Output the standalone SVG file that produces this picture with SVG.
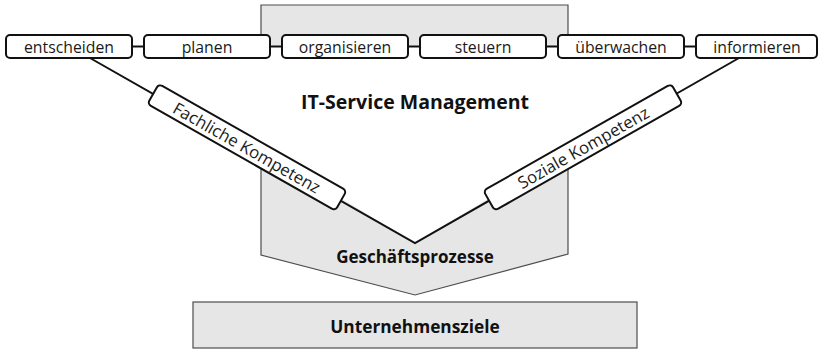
<svg xmlns="http://www.w3.org/2000/svg" width="819" height="349" viewBox="0 0 819 349">
<style>
.bg{fill:#e6e6e6;stroke:#4d4d4d;stroke-width:1.2}
.box{fill:#fff;stroke:#111;stroke-width:2}
.ln{stroke:#111;stroke-width:2;fill:none}
.t{font-family:"Open Sans","Noto Sans",sans-serif;font-size:15.8px;fill:#1a1a1a;text-anchor:middle;dominant-baseline:central}
.r{font-size:16.8px}
.b{font-family:"Open Sans","Noto Sans",sans-serif;font-size:17px;font-weight:bold;fill:#111;text-anchor:middle;dominant-baseline:central}
</style>
<g id="geschaeftsprozesse">
<polygon class="bg" points="261,5 568,5 568,254 415,295 261,255"/>
<polygon fill="#fff" points="90,46.5 739,46.5 415,243"/>
<text class="b" x="415" y="256">Geschäftsprozesse</text>
</g>
<g id="itsm"><text class="b" x="415" y="101" style="font-size:19.5px">IT-Service Management</text></g>
<g id="unternehmensziele">
<rect class="bg" x="193" y="302" width="444" height="46"/>
<text class="b" x="415" y="326" style="font-size:17.3px">Unternehmensziele</text>
</g>
<g id="connectors">
<line class="ln" x1="132" y1="46.5" x2="144" y2="46.5"/>
<line class="ln" x1="270" y1="46.5" x2="282" y2="46.5"/>
<line class="ln" x1="408" y1="46.5" x2="420" y2="46.5"/>
<line class="ln" x1="546" y1="46.5" x2="558" y2="46.5"/>
<line class="ln" x1="684" y1="46.5" x2="696" y2="46.5"/>
<polyline class="ln" points="90,58 415,243 739,58"/>
</g>
<g id="entscheiden"><rect class="box" x="6" y="35" width="126" height="23" rx="4"/><text class="t" x="69" y="46.5">entscheiden</text></g>
<g id="planen"><rect class="box" x="144" y="35" width="126" height="23" rx="4"/><text class="t" x="207" y="46.5">planen</text></g>
<g id="organisieren"><rect class="box" x="282" y="35" width="126" height="23" rx="4"/><text class="t" x="345" y="46.5">organisieren</text></g>
<g id="steuern"><rect class="box" x="420" y="35" width="126" height="23" rx="4"/><text class="t" x="483" y="46.5">steuern</text></g>
<g id="ueberwachen"><rect class="box" x="558" y="35" width="126" height="23" rx="4"/><text class="t" x="621" y="46.5">überwachen</text></g>
<g id="informieren"><rect class="box" x="696" y="35" width="121" height="23" rx="4"/><text class="t" x="757" y="46.5">informieren</text></g>
<g id="fachliche" transform="translate(247,147.3) rotate(29.6)"><rect class="box" x="-108" y="-11.5" width="216" height="23" rx="4"/><text class="t r" x="0" y="0">Fachliche Kompetenz</text></g>
<g id="soziale" transform="translate(583,147.3) rotate(-29.6)"><rect class="box" x="-108" y="-11.5" width="216" height="23" rx="4"/><text class="t r" x="0" y="0">Soziale Kompetenz</text></g>
</svg>
